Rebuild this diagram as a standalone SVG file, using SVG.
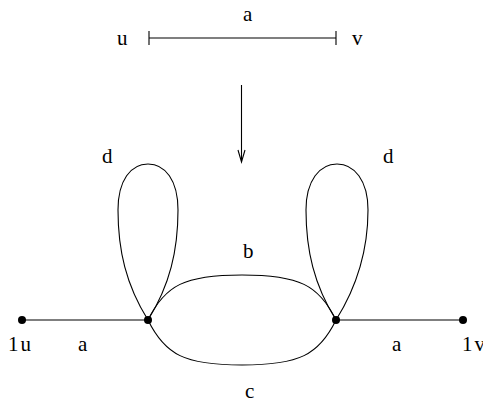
<svg xmlns="http://www.w3.org/2000/svg" width="483" height="403" viewBox="0 0 483 403">
<style>
.e{fill:none;stroke:#000;stroke-width:1.1}
.t{font-family:"Liberation Serif",serif;font-size:21px;fill:#000}
.n{fill:#000}
</style>
<rect width="483" height="403" fill="#fff"/>
<g id="connectors">
<path class="e" d="M149,38 H336 M149,31 V45 M336,31 V45"/>
<path class="e" d="M241.5,85 V162 M238,150 L241.5,162 L245,150"/>
<path class="e" d="M22,320 H148"/>
<path class="e" d="M336,320 H463"/>
<path class="e" d="M148,320 C126,285 118,250 118,210 C118,180 131,164 148,164 C165,164 178,180 178,210 C178,250 170,285 148,320"/>
<path class="e" d="M336,320 C314,285 306,250 306,210 C306,180 320,164 337,164 C354,164 368,180 368,210 C368,250 358,285 336,320"/>
<path class="e" d="M148,320 C165,285 185,275 242,275 C299,275 319,285 336,320"/>
<path class="e" d="M148,320 C165,355 185,365 242,365 C299,365 319,355 336,320"/>
</g>
<g id="node-1u"><circle class="n" cx="22" cy="320" r="4"/><text class="t" x="8" y="351" letter-spacing="2">1u</text></g>
<g id="node-left"><circle class="n" cx="148" cy="320" r="4"/></g>
<g id="node-right"><circle class="n" cx="336" cy="320" r="4"/></g>
<g id="node-1v"><circle class="n" cx="463" cy="320" r="4"/><text class="t" x="462" y="351" letter-spacing="2">1v</text></g>
<g id="labels">
<text class="t" x="117" y="45">u</text>
<text class="t" x="352" y="45">v</text>
<text class="t" x="243" y="21">a</text>
<text class="t" x="78" y="351">a</text>
<text class="t" x="392" y="351">a</text>
<text class="t" x="243" y="258">b</text>
<text class="t" x="245" y="398">c</text>
<text class="t" x="102" y="163">d</text>
<text class="t" x="383" y="163">d</text>
</g>
</svg>
